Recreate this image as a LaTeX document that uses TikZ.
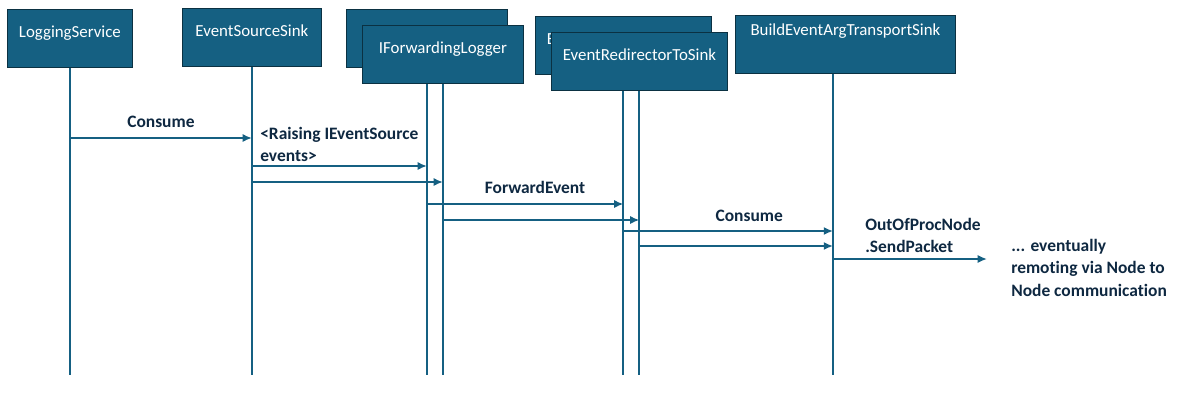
\documentclass[tikz,border=0pt]{standalone}
\usepackage{fontspec}
\setmainfont{Carlito}[Ligatures={NoCommon}]
\usetikzlibrary{arrows.meta, positioning}
\definecolor{boxfill}{HTML}{156082}
\definecolor{boxline}{HTML}{0B3142}
\definecolor{wire}{HTML}{156082}
\definecolor{ink}{HTML}{0E2841}

\begin{document}
\begin{tikzpicture}[
    x=0.025cm, y=-0.025cm,
    actor/.style={
        draw=boxline, fill=boxfill, line width=0.6pt,
        text=white, font=\fontsize{12}{14}\selectfont,
        anchor=north west, inner ysep=0pt,
        minimum height=1.45cm,
        text height=0.69cm, text depth=0.76cm
    },
    lifeline/.style={draw=wire, line width=1.4pt},
    msg/.style={-{Latex[length=6.6pt,width=5.8pt]}, draw=wire, line width=1.4pt},
    note/.style={font=\fontsize{12.4}{15.9}\selectfont\bfseries, text=ink, inner sep=0pt}
]

% ===== CANVAS =====
\useasboundingbox (0,0) rectangle (1178,403);
\coordinate (bottom) at (0,375);

% ===== ACTORS AND LIFELINES =====
\node[actor, minimum width=3.125cm] (logsvc) at (7,9) {LoggingService};
\draw[lifeline] (logsvc.south) -- (logsvc.south |- bottom);

\node[actor, minimum width=3.475cm] (srcsink) at (182,8) {EventSourceSink};
\draw[lifeline] (srcsink.south) -- (srcsink.south |- bottom);

% stacked pair: back copy first, front copy drawn over it
\node[actor, minimum width=4.025cm] (fwdback) at (346,9) {IForwardingLogger};
\draw[lifeline] (fwdback.south) -- (fwdback.south |- bottom);
\node[actor, minimum width=4.025cm] (fwd) at (362,25) {IForwardingLogger};
\draw[lifeline] (fwd.south) -- (fwd.south |- bottom);

\node[actor, minimum width=4.4cm] (redirback) at (535,16) {EventRedirectorToSink};
\draw[lifeline] (redirback.south) -- (redirback.south |- bottom);
\node[actor, minimum width=4.4cm] (redir) at (551,32) {EventRedirectorToSink};
\draw[lifeline] (redir.south) -- (redir.south |- bottom);

\node[actor, minimum width=5.5cm, text height=0.5cm, text depth=0.95cm]
  (transport) at (735,15) {BuildEventArgTransportSink};
% lifeline sits a bit left of the box centre
\coordinate (transportline) at ([xshift=-0.31cm]transport.south);
\draw[lifeline] (transportline) -- (transportline |- bottom);

% ===== MESSAGE ROWS =====
\coordinate (r1) at (0,138);
\coordinate (r2) at (0,166);
\coordinate (r3) at (0,182);
\coordinate (r4) at (0,204);
\coordinate (r5) at (0,220);
\coordinate (r6) at (0,231);
\coordinate (r7) at (0,246);
\coordinate (r8) at (0,259);
\coordinate (farend) at (987,259);

% ===== MESSAGES =====
\draw[msg] (logsvc.south |- r1) -- node[note, above=7pt]{Consume} (srcsink.south |- r1);

\node[note, align=left, anchor=north west] (raising) at (260,126.5)
  {<Raising IEventSource\\events>};
\draw[msg] (srcsink.south |- r2) -- (fwdback.south |- r2);
\draw[msg] (srcsink.south |- r3) -- (fwd.south |- r3);

\draw[msg] (fwdback.south |- r4) -- node[note, pos=0.55, above=7pt]{ForwardEvent} (redirback.south |- r4);
\draw[msg] (fwd.south |- r5) -- (redir.south |- r5);

\draw[msg] (redirback.south |- r6) -- node[note, pos=0.6, above=6.2pt]{Consume} (transportline |- r6);
\draw[msg] (redir.south |- r7) -- (transportline |- r7);

\node[note, align=left, anchor=north west] (sendpkt) at (865,218)
  {OutOfProcNode\\.SendPacket};
\draw[msg] (transportline |- r8) -- (farend);

\node[note, align=left, anchor=north west] (remote) at (1011,239)
  {... eventually\\remoting via Node to\\Node communication};

\end{tikzpicture}
\end{document}
